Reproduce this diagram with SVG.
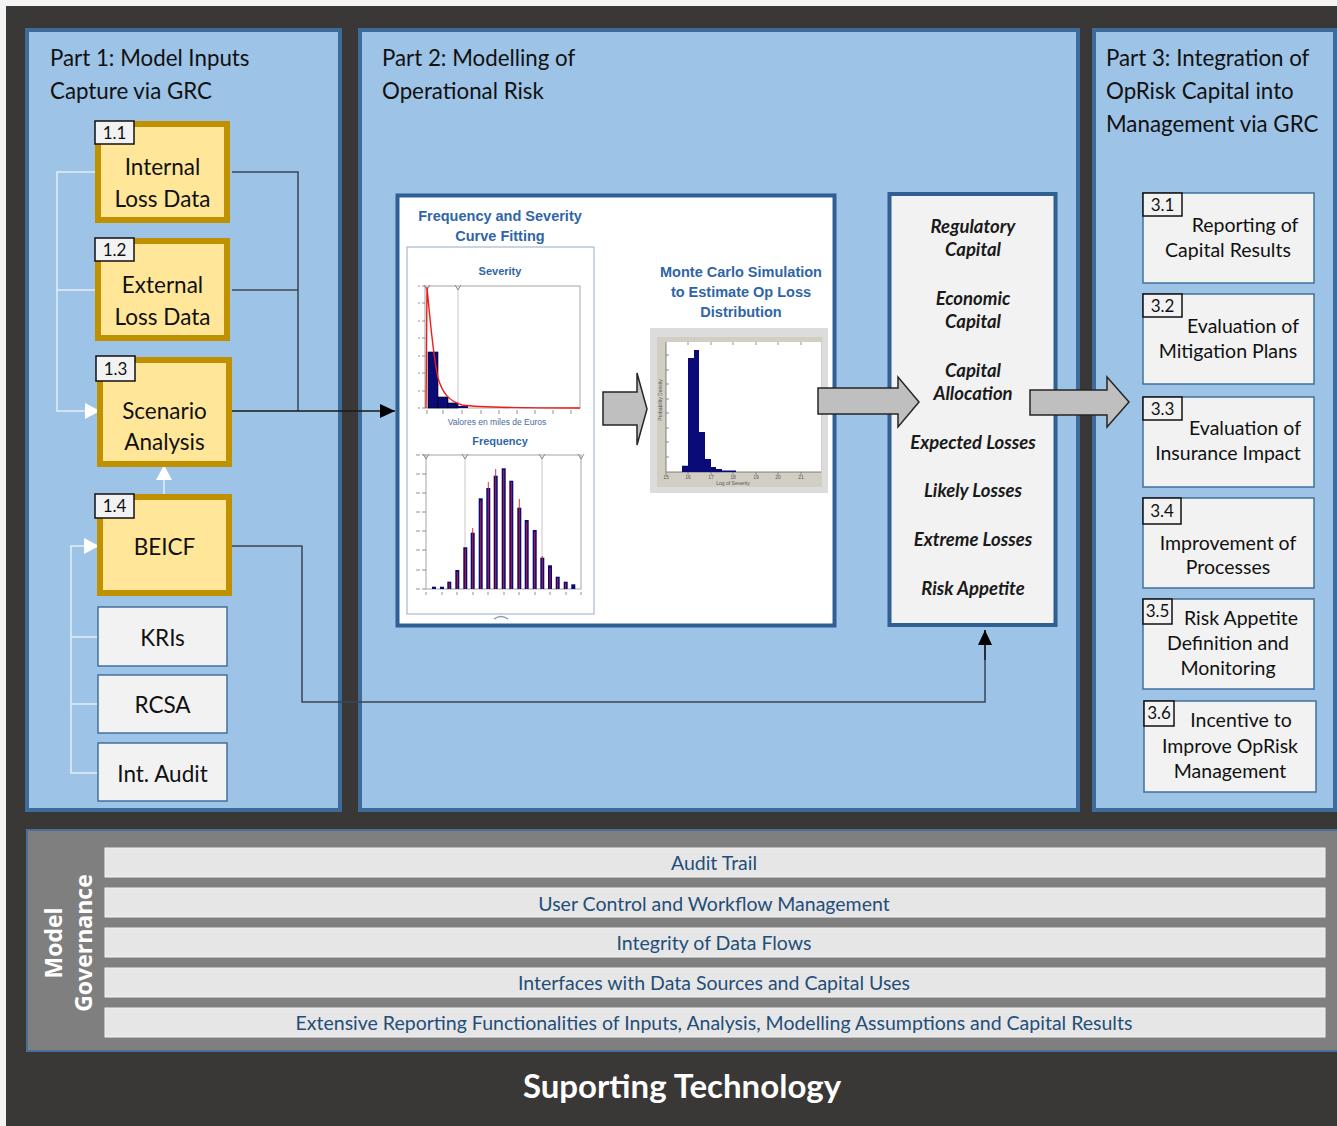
<svg xmlns="http://www.w3.org/2000/svg" width="1337" height="1126" viewBox="0 0 1337 1126">
<defs>
<style>
.panel{fill:#9dc3e6;stroke:#3d6c9b;stroke-width:4}
.title{font-family:Lato,"Open Sans",sans-serif;font-size:22.3px;fill:#111}
.ybox{fill:#ffe699;stroke:#bf9000;stroke-width:6}
.gbox{fill:#f2f2f2;stroke:#41719c;stroke-width:1.5}
.lbl{fill:#f2f2f2;stroke:#111;stroke-width:1.5}
.lt{font-family:Lato,sans-serif;font-size:17px;fill:#111;text-anchor:middle}
.bt{font-family:Lato,sans-serif;font-size:22.5px;fill:#111;text-anchor:middle}
.rt{font-family:Lato,sans-serif;font-size:19.5px;fill:#111;text-anchor:middle}
.ct{font-family:Lato,sans-serif;font-size:18.5px;font-weight:bold;font-style:italic;fill:#1a1a1a;text-anchor:middle}
.wl{fill:none;stroke:#e3eef9;stroke-width:1.5}
.dl{fill:none;stroke:#3a4654;stroke-width:1.5}
.garrow{fill:#bfbfbf;stroke:#262626;stroke-width:1.5}
.cht{font-family:"Liberation Sans",Arial,sans-serif;font-weight:bold;fill:#2f65a7;text-anchor:middle}
.gbar{fill:#e7e6e6;stroke:#f4f4f4;stroke-width:1}
.gt{font-family:Lato,sans-serif;font-size:19.5px;fill:#1f4e79;text-anchor:middle}
.ax{fill:none;stroke:#a6a6a6;stroke-width:1}
.grid{fill:none;stroke:#c8c8c8;stroke-width:1}
.nb{fill:#0a0a78}
.rl{stroke:#d81c2c;stroke-width:0.9}
.tick{stroke:#777;stroke-width:0.8}
.tiny{font-family:"Liberation Sans",Arial,sans-serif;font-size:5px;fill:#555;text-anchor:middle}
</style>
<marker id="wa" viewBox="0 0 15 16" refX="15" refY="8" markerWidth="15" markerHeight="16" markerUnits="userSpaceOnUse" orient="auto">
<path d="M0,0 L15,8 L0,16 z" fill="#ffffff"/>
</marker>
<marker id="ba" viewBox="0 0 15 14" refX="15" refY="7" markerWidth="15" markerHeight="14" markerUnits="userSpaceOnUse" orient="auto">
<path d="M0,0 L15,7 L0,14 z" fill="#000000"/>
</marker>
</defs>

<rect x="0" y="0" width="1337" height="1126" fill="#f4f4f4"/>
<rect x="6" y="6" width="1331" height="1120" fill="#3a3836"/>

<!-- Panels -->
<g id="panel1">
<rect class="panel" x="27" y="30" width="313" height="780"/>
<text class="title" x="50" y="66">Part 1: Model Inputs</text>
<text class="title" x="50" y="99">Capture via GRC</text>
</g>
<g id="panel2">
<rect class="panel" x="360" y="30" width="718" height="780"/>
<text class="title" x="382" y="66">Part 2: Modelling of</text>
<text class="title" x="382" y="99">Operational Risk</text>
</g>
<g id="panel3">
<rect class="panel" x="1094" y="30" width="241" height="780"/>
<text class="title" x="1106" y="66">Part 3: Integration of</text>
<text class="title" x="1106" y="99">OpRisk Capital into</text>
<text class="title" x="1106" y="132">Management via GRC</text>
</g>

<!-- Connectors -->
<g id="connectors">
<path class="wl" d="M97,172 H57 V411 H100" marker-end="url(#wa)"/>
<path class="wl" d="M97,290 H57"/>
<path class="wl" d="M164,494 V465" marker-end="url(#wa)"/>
<path class="wl" d="M97,773 H71 V546 H99" marker-end="url(#wa)"/>
<path class="wl" d="M97,704 H71"/>
<path class="wl" d="M97,637 H71"/>
<path class="dl" d="M232,172 H298 V411"/>
<path class="dl" d="M232,290 H298"/>
<path d="M232,411 H395" fill="none" stroke="#1a1a1a" stroke-width="1.5" marker-end="url(#ba)"/>
<path class="dl" d="M232,546 H302 V702 H985 V630"/>
<path d="M985,660 V630" fill="none" stroke="#1a1a1a" stroke-width="1.5" marker-end="url(#ba)"/>
</g>

<!-- Part 1 nodes -->
<g id="n1-1">
<rect class="ybox" x="98" y="124" width="129" height="96"/>
<rect class="lbl" x="95" y="121" width="39" height="23"/>
<text class="lt" x="114.5" y="139">1.1</text>
<text class="bt" x="162.5" y="175">Internal</text>
<text class="bt" x="162.5" y="207">Loss Data</text>
</g>
<g id="n1-2">
<rect class="ybox" x="98" y="241" width="129" height="97"/>
<rect class="lbl" x="95" y="238" width="39" height="23"/>
<text class="lt" x="114.5" y="256">1.2</text>
<text class="bt" x="162.5" y="293">External</text>
<text class="bt" x="162.5" y="325">Loss Data</text>
</g>
<g id="n1-3">
<rect class="ybox" x="100" y="360" width="129" height="104"/>
<rect class="lbl" x="96" y="356" width="39" height="25"/>
<text class="lt" x="115.5" y="375">1.3</text>
<text class="bt" x="164.5" y="419">Scenario</text>
<text class="bt" x="164.5" y="450">Analysis</text>
</g>
<g id="n1-4">
<rect class="ybox" x="100" y="497" width="129" height="96"/>
<rect class="lbl" x="95" y="494" width="39" height="24"/>
<text class="lt" x="114.5" y="512">1.4</text>
<text class="bt" x="164.5" y="555">BEICF</text>
</g>
<g id="kris">
<rect class="gbox" x="98" y="607" width="129" height="59"/>
<text class="bt" x="162.5" y="646">KRIs</text>
</g>
<g id="rcsa">
<rect class="gbox" x="98" y="675" width="129" height="58"/>
<text class="bt" x="162.5" y="713">RCSA</text>
</g>
<g id="intaudit">
<rect class="gbox" x="98" y="743" width="129" height="58"/>
<text class="bt" x="162.5" y="782">Int. Audit</text>
</g>

<!-- Part 2 modelling image -->
<g id="modelling">
<rect x="397.5" y="195.5" width="437" height="430" fill="#ffffff" stroke="#2f5f93" stroke-width="4"/>
<text class="cht" x="500" y="221" font-size="14.5">Frequency and Severity</text>
<text class="cht" x="500" y="241" font-size="14.5">Curve Fitting</text>
<rect x="407" y="247" width="187" height="367" fill="#ffffff" stroke="#a9b8d0" stroke-width="1.2"/>
<path d="M494,619 Q501,614 508,619" fill="none" stroke="#8a9ab5" stroke-width="1.5"/>

<!-- Severity -->
<text class="cht" x="500" y="275" font-size="11">Severity</text>
<rect class="ax" x="425" y="286" width="155" height="122"/>
<line class="grid" x1="458" y1="286" x2="458" y2="408"/>
<path d="M455,285 L458,290 L461,285" fill="none" stroke="#777" stroke-width="0.8"/>
<path d="M424,285 L427,290 L430,285" fill="none" stroke="#777" stroke-width="0.8"/>
<g class="tick">
<line x1="422" y1="286" x2="425" y2="286"/><line x1="422" y1="303" x2="425" y2="303"/><line x1="422" y1="321" x2="425" y2="321"/><line x1="422" y1="338" x2="425" y2="338"/><line x1="422" y1="356" x2="425" y2="356"/><line x1="422" y1="373" x2="425" y2="373"/><line x1="422" y1="391" x2="425" y2="391"/><line x1="422" y1="408" x2="425" y2="408"/>
<line x1="418" y1="286" x2="420" y2="286"/><line x1="418" y1="303" x2="420" y2="303"/><line x1="418" y1="321" x2="420" y2="321"/><line x1="418" y1="338" x2="420" y2="338"/><line x1="418" y1="356" x2="420" y2="356"/><line x1="418" y1="373" x2="420" y2="373"/><line x1="418" y1="391" x2="420" y2="391"/><line x1="418" y1="408" x2="420" y2="408"/>
<line x1="427" y1="410" x2="427" y2="414"/><line x1="443" y1="410" x2="443" y2="414"/><line x1="462" y1="410" x2="462" y2="414"/><line x1="481" y1="410" x2="481" y2="414"/><line x1="499" y1="410" x2="499" y2="414"/><line x1="517" y1="410" x2="517" y2="414"/><line x1="535" y1="410" x2="535" y2="414"/><line x1="553" y1="410" x2="553" y2="414"/><line x1="571" y1="410" x2="571" y2="414"/>
</g>
<rect class="nb" x="428" y="352" width="10" height="56" stroke="#000" stroke-width="0.6"/>
<rect class="nb" x="438" y="397" width="10" height="11" stroke="#000" stroke-width="0.6"/>
<rect class="nb" x="448" y="403" width="10" height="5" stroke="#000" stroke-width="0.6"/>
<rect class="nb" x="458" y="406" width="10" height="2"/>
<path d="M426,408 L427,287 C430,320 433,355 438,378 C443,395 450,401 462,405 C480,407.5 520,408 580,408" fill="none" stroke="#ee1c1c" stroke-width="1.4"/>
<text x="497" y="425" font-family="'Liberation Sans',Arial,sans-serif" font-size="8.5" fill="#4a6a9a" text-anchor="middle">Valores en miles de Euros</text>

<!-- Frequency -->
<text class="cht" x="500" y="445" font-size="11">Frequency</text>
<rect class="ax" x="426" y="455" width="155" height="134"/>
<line class="grid" x1="465" y1="455" x2="465" y2="589"/>
<line class="grid" x1="542" y1="455" x2="542" y2="589"/>
<path d="M462,454 L465,459 L468,454" fill="none" stroke="#777" stroke-width="0.8"/>
<path d="M539,454 L542,459 L545,454" fill="none" stroke="#777" stroke-width="0.8"/>
<path d="M423,454 L426,459 L429,454" fill="none" stroke="#777" stroke-width="0.8"/>
<path d="M578,454 L581,459 L584,454" fill="none" stroke="#777" stroke-width="0.8"/>
<g class="tick">
<line x1="422" y1="455" x2="426" y2="455"/><line x1="422" y1="474" x2="426" y2="474"/><line x1="422" y1="493" x2="426" y2="493"/><line x1="422" y1="512" x2="426" y2="512"/><line x1="422" y1="531" x2="426" y2="531"/><line x1="422" y1="550" x2="426" y2="550"/><line x1="422" y1="570" x2="426" y2="570"/><line x1="422" y1="589" x2="426" y2="589"/>
<line x1="416" y1="455" x2="420" y2="455"/><line x1="416" y1="474" x2="420" y2="474"/><line x1="416" y1="493" x2="420" y2="493"/><line x1="416" y1="512" x2="420" y2="512"/><line x1="416" y1="531" x2="420" y2="531"/><line x1="416" y1="550" x2="420" y2="550"/><line x1="416" y1="570" x2="420" y2="570"/><line x1="416" y1="589" x2="420" y2="589"/>
<line x1="426" y1="592" x2="426" y2="595"/><line x1="442" y1="592" x2="442" y2="595"/><line x1="457" y1="592" x2="457" y2="595"/><line x1="473" y1="592" x2="473" y2="595"/><line x1="488" y1="592" x2="488" y2="595"/><line x1="504" y1="592" x2="504" y2="595"/><line x1="519" y1="592" x2="519" y2="595"/><line x1="535" y1="592" x2="535" y2="595"/><line x1="550" y1="592" x2="550" y2="595"/><line x1="566" y1="592" x2="566" y2="595"/><line x1="581" y1="592" x2="581" y2="595"/>
</g>
<g>
<rect class="nb" x="432" y="586.7" width="4" height="2.3"/>
<rect class="nb" x="440" y="586.7" width="4" height="2.3"/>
<rect class="nb" x="447.3" y="581.7" width="4" height="7.3"/>
<rect class="nb" x="455.3" y="570" width="4" height="19"/>
<rect class="nb" x="463.3" y="547.3" width="4" height="41.7"/>
<rect class="nb" x="470.7" y="532.7" width="4" height="56.3"/>
<rect class="nb" x="478.7" y="498.3" width="4" height="90.7"/>
<rect class="nb" x="486.3" y="488" width="4" height="101"/>
<rect class="nb" x="493.7" y="475.7" width="4" height="113.3"/>
<rect class="nb" x="501.7" y="468.3" width="4" height="120.7"/>
<rect class="nb" x="509.3" y="480.7" width="4" height="108.3"/>
<rect class="nb" x="517.3" y="507.7" width="4" height="81.3"/>
<rect class="nb" x="524.7" y="520" width="4" height="69"/>
<rect class="nb" x="532.7" y="530" width="4" height="59"/>
<rect class="nb" x="540.3" y="557.7" width="4" height="31.3"/>
<rect class="nb" x="548" y="565.3" width="4" height="23.7"/>
<rect class="nb" x="555.7" y="576.7" width="4" height="12.3"/>
<rect class="nb" x="563.7" y="581.7" width="4" height="7.3"/>
<rect class="nb" x="571.3" y="584.3" width="4" height="4.7"/>
</g>
<g class="rl">
<line x1="449.3" y1="583" x2="449.3" y2="589"/>
<line x1="457.3" y1="572" x2="457.3" y2="589"/>
<line x1="465.3" y1="549" x2="465.3" y2="589"/>
<line x1="472.7" y1="528" x2="472.7" y2="589"/>
<line x1="480.7" y1="501" x2="480.7" y2="589"/>
<line x1="488.3" y1="482" x2="488.3" y2="589"/>
<line x1="495.7" y1="469" x2="495.7" y2="589"/>
<line x1="503.7" y1="470" x2="503.7" y2="589"/>
<line x1="511.3" y1="482" x2="511.3" y2="589"/>
<line x1="519.3" y1="499" x2="519.3" y2="589"/>
<line x1="526.7" y1="522" x2="526.7" y2="589"/>
<line x1="534.7" y1="532" x2="534.7" y2="589"/>
<line x1="542.3" y1="556" x2="542.3" y2="589"/>
<line x1="550" y1="568" x2="550" y2="589"/>
<line x1="557.7" y1="578" x2="557.7" y2="589"/>
<line x1="565.7" y1="583" x2="565.7" y2="589"/>
</g>

<!-- Monte Carlo -->
<text class="cht" x="741" y="277" font-size="14.5">Monte Carlo Simulation</text>
<text class="cht" x="741" y="297" font-size="14.5">to Estimate Op Loss</text>
<text class="cht" x="741" y="317" font-size="14.5">Distribution</text>
<rect x="650" y="328" width="178" height="165" fill="#dcdcdc"/>
<rect x="657" y="337" width="165" height="150" fill="#d3cec4"/>
<rect x="666" y="342" width="155" height="130" fill="#ffffff"/>
<path d="M666,342 V472 H821" fill="none" stroke="#666" stroke-width="0.8"/>
<g class="tick">
<line x1="666" y1="472" x2="666" y2="475"/><line x1="688" y1="472" x2="688" y2="475"/><line x1="711" y1="472" x2="711" y2="475"/><line x1="733" y1="472" x2="733" y2="475"/><line x1="756" y1="472" x2="756" y2="475"/><line x1="778" y1="472" x2="778" y2="475"/><line x1="801" y1="472" x2="801" y2="475"/>
<line x1="688" y1="342" x2="688" y2="345"/><line x1="711" y1="342" x2="711" y2="345"/><line x1="733" y1="342" x2="733" y2="345"/><line x1="756" y1="342" x2="756" y2="345"/><line x1="778" y1="342" x2="778" y2="345"/><line x1="801" y1="342" x2="801" y2="345"/>
<line x1="666" y1="355" x2="669" y2="355"/><line x1="666" y1="370" x2="669" y2="370"/><line x1="666" y1="384" x2="669" y2="384"/><line x1="666" y1="399" x2="669" y2="399"/><line x1="666" y1="413" x2="669" y2="413"/><line x1="666" y1="428" x2="669" y2="428"/><line x1="666" y1="442" x2="669" y2="442"/><line x1="666" y1="457" x2="669" y2="457"/>
</g>
<rect class="nb" x="682" y="465.7" width="6" height="6.3"/>
<rect class="nb" x="688" y="358" width="6" height="114"/>
<rect class="nb" x="694" y="350" width="5" height="122"/>
<rect class="nb" x="699" y="432" width="6" height="40"/>
<rect class="nb" x="705" y="459" width="6" height="13"/>
<rect class="nb" x="711" y="467" width="5" height="5"/>
<rect class="nb" x="716" y="469" width="6" height="3"/>
<rect class="nb" x="722" y="470.5" width="14" height="1.5"/>
<text class="tiny" x="666" y="479">15</text>
<text class="tiny" x="688" y="479">16</text>
<text class="tiny" x="711" y="479">17</text>
<text class="tiny" x="733" y="479">18</text>
<text class="tiny" x="756" y="479">19</text>
<text class="tiny" x="778" y="479">20</text>
<text class="tiny" x="801" y="479">21</text>
<text class="tiny" x="733" y="485">Log of Severity</text>
<text class="tiny" transform="translate(662,400) rotate(-90)">Probability Density</text>
</g>

<!-- Capital outputs -->
<g id="capital">
<rect x="889.5" y="194" width="166" height="431" fill="#f2f2f2" stroke="#2f5f93" stroke-width="4"/>
<text class="ct" x="973" y="233">Regulatory</text>
<text class="ct" x="973" y="256">Capital</text>
<text class="ct" x="973" y="305">Economic</text>
<text class="ct" x="973" y="328">Capital</text>
<text class="ct" x="973" y="377">Capital</text>
<text class="ct" x="973" y="400">Allocation</text>
<text class="ct" x="973" y="449">Expected Losses</text>
<text class="ct" x="973" y="497">Likely Losses</text>
<text class="ct" x="973" y="546">Extreme Losses</text>
<text class="ct" x="973" y="595">Risk Appetite</text>
</g>

<!-- block arrows -->
<g id="arrows">
<polygon class="garrow" points="603,392 637,392 637,373 647,409 637,445 637,425 603,425"/>
<polygon class="garrow" points="818,388 898,388 898,377 919,402 898,427 898,414 818,414"/>
<polygon class="garrow" points="1030,390 1107,390 1107,377 1129,402 1107,427 1107,415 1030,415"/>
</g>

<!-- Part 3 nodes -->
<g id="n3-1">
<rect class="gbox" x="1143" y="193" width="171" height="90"/>
<rect class="lbl" x="1143" y="193" width="39" height="23"/>
<text class="lt" x="1162.5" y="211">3.1</text>
<text class="rt" x="1245" y="232">Reporting of</text>
<text class="rt" x="1228" y="257">Capital Results</text>
</g>
<g id="n3-2">
<rect class="gbox" x="1143" y="294" width="171" height="90"/>
<rect class="lbl" x="1143" y="294" width="39" height="23"/>
<text class="lt" x="1162.5" y="312">3.2</text>
<text class="rt" x="1243" y="333">Evaluation of</text>
<text class="rt" x="1228" y="358">Mitigation Plans</text>
</g>
<g id="n3-3">
<rect class="gbox" x="1143" y="397" width="171" height="90"/>
<rect class="lbl" x="1143" y="397" width="39" height="23"/>
<text class="lt" x="1162.5" y="415">3.3</text>
<text class="rt" x="1245" y="435">Evaluation of</text>
<text class="rt" x="1228" y="460">Insurance Impact</text>
</g>
<g id="n3-4">
<rect class="gbox" x="1143" y="498" width="171" height="90"/>
<rect class="lbl" x="1143" y="498" width="38" height="26"/>
<text class="lt" x="1162" y="517">3.4</text>
<text class="rt" x="1228" y="550">Improvement of</text>
<text class="rt" x="1228" y="574">Processes</text>
</g>
<g id="n3-5">
<rect class="gbox" x="1143" y="599" width="171" height="90"/>
<rect class="lbl" x="1143" y="599" width="29" height="25"/>
<text class="lt" x="1157.5" y="617">3.5</text>
<text class="rt" x="1241" y="625">Risk Appetite</text>
<text class="rt" x="1228" y="650">Definition and</text>
<text class="rt" x="1228" y="675">Monitoring</text>
</g>
<g id="n3-6">
<rect class="gbox" x="1144" y="701" width="172" height="91"/>
<rect class="lbl" x="1144" y="701" width="30" height="25"/>
<text class="lt" x="1159" y="719">3.6</text>
<text class="rt" x="1241" y="727">Incentive to</text>
<text class="rt" x="1230" y="753">Improve OpRisk</text>
<text class="rt" x="1230" y="778">Management</text>
</g>

<!-- Governance -->
<g id="governance">
<rect x="27" y="830" width="1312" height="221" fill="#7f7f7f" stroke="#4a6f96" stroke-width="2"/>
<text transform="translate(62,943) rotate(-90)" font-family="'Open Sans',sans-serif" font-weight="bold" font-size="23" fill="#ffffff" text-anchor="middle">Model</text>
<text transform="translate(92,943) rotate(-90)" font-family="'Open Sans',sans-serif" font-weight="bold" font-size="23" fill="#ffffff" text-anchor="middle">Governance</text>
<rect class="gbar" x="105" y="848" width="1220" height="29"/>
<rect class="gbar" x="105" y="888" width="1220" height="29"/>
<rect class="gbar" x="105" y="928" width="1220" height="29"/>
<rect class="gbar" x="105" y="968" width="1220" height="29"/>
<rect class="gbar" x="105" y="1008" width="1220" height="29"/>
<text class="gt" x="714" y="870">Audit Trail</text>
<text class="gt" x="714" y="911">User Control and Workflow Management</text>
<text class="gt" x="714" y="950">Integrity of Data Flows</text>
<text class="gt" x="714" y="990">Interfaces with Data Sources and Capital Uses</text>
<text class="gt" x="714" y="1030">Extensive Reporting Functionalities of Inputs, Analysis, Modelling Assumptions and Capital Results</text>
</g>
<text x="682" y="1098" font-family="Lato,sans-serif" font-weight="bold" font-size="33" fill="#ffffff" text-anchor="middle">Suporting Technology</text>
</svg>
